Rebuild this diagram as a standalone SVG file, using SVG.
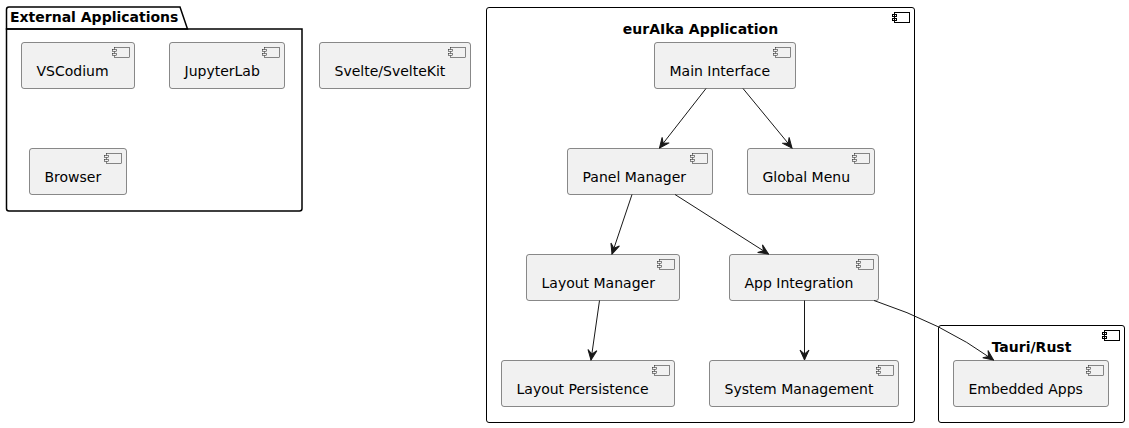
<svg xmlns="http://www.w3.org/2000/svg" width="1129" height="428" viewBox="0 0 1129 428">
<defs>
<style>
.node rect.box{fill:#F1F1F1;stroke:#181818;stroke-width:0.5;}
.ico{fill:#F1F1F1;stroke:#181818;stroke-width:0.5;}
.cico{fill:none;stroke:#000000;stroke-width:1;}
.lbl{font-family:"DejaVu Sans","Liberation Sans",sans-serif;font-size:14px;fill:#000000;}
.ttl{font-family:"DejaVu Sans","Liberation Sans",sans-serif;font-size:14px;font-weight:bold;fill:#000000;}
.pkg{fill:none;stroke:#000000;stroke-width:1.5;}
.cont{fill:none;stroke:#000000;stroke-width:1;}
.edge{fill:none;stroke:#181818;stroke-width:1;}
</style>
<marker id="arr" markerUnits="userSpaceOnUse" viewBox="-1 -6 12 12" refX="10" refY="0" markerWidth="12" markerHeight="12" orient="auto">
<path d="M0,-4.5 L10,0 L0,4.5 L4,0 Z" fill="#181818" stroke="#181818" stroke-width="1"/>
</marker>
</defs>
<rect width="1129" height="428" fill="#FFFFFF"/>

<g id="pkg-external">
<path class="pkg" d="M6.5,29 L6.5,9.5 Q6.5,7 9,7 L180,7 L187.5,29 Z"/>
<path class="pkg" d="M6.5,29 L302,29 L302,208.5 Q302,211 299.5,211 L9,211 Q6.5,211 6.5,208.5 Z"/>
<text class="ttl" x="10" y="22">External Applications</text>
</g>

<g id="cont-euraika">
<rect class="cont" x="486.5" y="7.5" width="428" height="415" rx="2.5"/>
<rect class="cico" x="894.5" y="12.5" width="15" height="10"/>
<rect class="cico" x="892.5" y="14.5" width="4" height="2" fill="#FFFFFF"/>
<rect class="cico" x="892.5" y="18.5" width="4" height="2" fill="#FFFFFF"/>
<text class="ttl" x="700.5" y="33.5" text-anchor="middle">eurAIka Application</text>
</g>

<g id="cont-tauri">
<rect class="cont" x="938.5" y="325.5" width="186" height="97" rx="2.5"/>
<rect class="cico" x="1104.5" y="330.5" width="15" height="10"/>
<rect class="cico" x="1102.5" y="332.5" width="4" height="2" fill="#FFFFFF"/>
<rect class="cico" x="1102.5" y="336.5" width="4" height="2" fill="#FFFFFF"/>
<text class="ttl" x="1031.5" y="351.5" text-anchor="middle">Tauri/Rust</text>
</g>

<g id="vscodium" class="node">
<rect class="box" x="21.5" y="42.5" width="113" height="46" rx="2.5"/>
<rect class="ico" x="114.5" y="47.5" width="15" height="10"/><rect class="ico" x="112.5" y="49.5" width="4" height="2"/><rect class="ico" x="112.5" y="53.5" width="4" height="2"/>
<text class="lbl" x="36.5" y="75.5">VSCodium</text>
</g>

<g id="jupyterlab" class="node">
<rect class="box" x="169.5" y="42.5" width="115" height="46" rx="2.5"/>
<rect class="ico" x="264.5" y="47.5" width="15" height="10"/><rect class="ico" x="262.5" y="49.5" width="4" height="2"/><rect class="ico" x="262.5" y="53.5" width="4" height="2"/>
<text class="lbl" x="184.5" y="75.5">JupyterLab</text>
</g>

<g id="browser" class="node">
<rect class="box" x="29.5" y="148.5" width="97" height="46" rx="2.5"/>
<rect class="ico" x="106.5" y="153.5" width="15" height="10"/><rect class="ico" x="104.5" y="155.5" width="4" height="2"/><rect class="ico" x="104.5" y="159.5" width="4" height="2"/>
<text class="lbl" x="44.5" y="181.5">Browser</text>
</g>

<g id="svelte" class="node">
<rect class="box" x="319.5" y="42.5" width="151" height="46" rx="2.5"/>
<rect class="ico" x="450.5" y="47.5" width="15" height="10"/><rect class="ico" x="448.5" y="49.5" width="4" height="2"/><rect class="ico" x="448.5" y="53.5" width="4" height="2"/>
<text class="lbl" x="334.5" y="75.5">Svelte/SvelteKit</text>
</g>

<g id="main-interface" class="node">
<rect class="box" x="654.5" y="42.5" width="141" height="46" rx="2.5"/>
<rect class="ico" x="775.5" y="47.5" width="15" height="10"/><rect class="ico" x="773.5" y="49.5" width="4" height="2"/><rect class="ico" x="773.5" y="53.5" width="4" height="2"/>
<text class="lbl" x="669.5" y="75.5">Main Interface</text>
</g>

<g id="panel-manager" class="node">
<rect class="box" x="567.5" y="148.5" width="145" height="46" rx="2.5"/>
<rect class="ico" x="692.5" y="153.5" width="15" height="10"/><rect class="ico" x="690.5" y="155.5" width="4" height="2"/><rect class="ico" x="690.5" y="159.5" width="4" height="2"/>
<text class="lbl" x="582.5" y="181.5">Panel Manager</text>
</g>

<g id="global-menu" class="node">
<rect class="box" x="747.5" y="148.5" width="127" height="46" rx="2.5"/>
<rect class="ico" x="854.5" y="153.5" width="15" height="10"/><rect class="ico" x="852.5" y="155.5" width="4" height="2"/><rect class="ico" x="852.5" y="159.5" width="4" height="2"/>
<text class="lbl" x="762.5" y="181.5">Global Menu</text>
</g>

<g id="layout-manager" class="node">
<rect class="box" x="526.5" y="254.5" width="153" height="46" rx="2.5"/>
<rect class="ico" x="659.5" y="259.5" width="15" height="10"/><rect class="ico" x="657.5" y="261.5" width="4" height="2"/><rect class="ico" x="657.5" y="265.5" width="4" height="2"/>
<text class="lbl" x="541.5" y="287.5">Layout Manager</text>
</g>

<g id="app-integration" class="node">
<rect class="box" x="729.5" y="254.5" width="149" height="46" rx="2.5"/>
<rect class="ico" x="858.5" y="259.5" width="15" height="10"/><rect class="ico" x="856.5" y="261.5" width="4" height="2"/><rect class="ico" x="856.5" y="265.5" width="4" height="2"/>
<text class="lbl" x="744.5" y="287.5">App Integration</text>
</g>

<g id="layout-persistence" class="node">
<rect class="box" x="501.5" y="360.5" width="173" height="46" rx="2.5"/>
<rect class="ico" x="654.5" y="365.5" width="15" height="10"/><rect class="ico" x="652.5" y="367.5" width="4" height="2"/><rect class="ico" x="652.5" y="371.5" width="4" height="2"/>
<text class="lbl" x="516.5" y="393.5">Layout Persistence</text>
</g>

<g id="system-management" class="node">
<rect class="box" x="709.5" y="360.5" width="189" height="46" rx="2.5"/>
<rect class="ico" x="878.5" y="365.5" width="15" height="10"/><rect class="ico" x="876.5" y="367.5" width="4" height="2"/><rect class="ico" x="876.5" y="371.5" width="4" height="2"/>
<text class="lbl" x="724.5" y="393.5">System Management</text>
</g>

<g id="embedded-apps" class="node">
<rect class="box" x="953.5" y="360.5" width="155" height="46" rx="2.5"/>
<rect class="ico" x="1088.5" y="365.5" width="15" height="10"/><rect class="ico" x="1086.5" y="367.5" width="4" height="2"/><rect class="ico" x="1086.5" y="371.5" width="4" height="2"/>
<text class="lbl" x="968.5" y="393.5">Embedded Apps</text>
</g>

<g id="connectors">
<path class="edge" marker-end="url(#arr)" d="M706,88.5 L659.5,148"/>
<path class="edge" marker-end="url(#arr)" d="M743,88.5 L792,148"/>
<path class="edge" marker-end="url(#arr)" d="M632,194.5 L612,254"/>
<path class="edge" marker-end="url(#arr)" d="M675,194.5 L768.5,254"/>
<path class="edge" marker-end="url(#arr)" d="M599.5,300.5 L591,360"/>
<path class="edge" marker-end="url(#arr)" d="M804.5,300.5 L804.5,360"/>
<path class="edge" marker-end="url(#arr)" d="M874,300.5 Q942,323 993.5,360"/>
</g>
</svg>
